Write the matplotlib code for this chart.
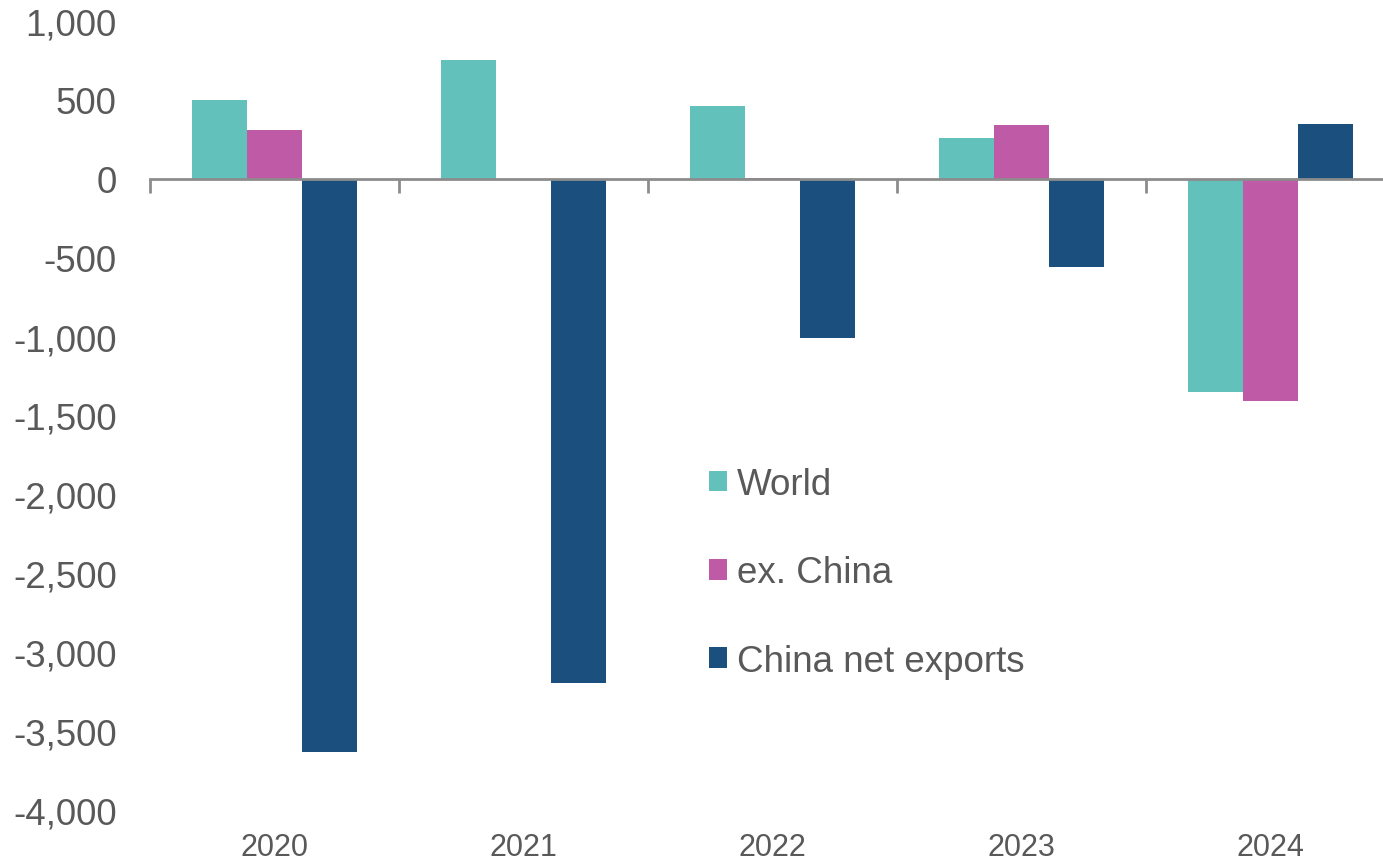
import numpy as np
import matplotlib
matplotlib.use("Agg")
import matplotlib.pyplot as plt
from matplotlib.ticker import FuncFormatter

years = ["2020", "2021", "2022", "2023", "2024"]
world = [500, 755, 462, 260, -1350]
ex_china = [310, -10, 5, 342, -1408]
china_net_exports = [-3632, -3195, -1008, -558, 349]

series = [("World", world, "#62c1bb"),
          ("ex. China", ex_china, "#bf5aa6"),
          ("China net exports", china_net_exports, "#1b507e")]

plt.rcParams["font.family"] = ["Liberation Sans", "DejaVu Sans"]
text_col = "#595959"
axis_col = "#8c8c8c"

fig = plt.figure(figsize=(13.83, 8.62), dpi=100)
ax = fig.add_axes([150 / 1383, 51 / 862, 1245 / 1383, 789 / 862])

x = np.arange(len(years))
w = 0.221
for i, (name, vals, col) in enumerate(series):
    ax.bar(x + (i - 1) * w, vals, w, color=col, label=name, zorder=2)

ax.set_xlim(-0.5, len(years) - 0.5)
ax.set_ylim(-4000, 1000)
ax.set_yticks(np.arange(-4000, 1001, 500))
ax.yaxis.set_major_formatter(FuncFormatter(lambda v, p: f"{int(v):,}"))
ax.tick_params(axis="y", length=0, pad=24, labelsize=26.5, labelcolor=text_col)

for s in ["top", "right", "left"]:
    ax.spines[s].set_visible(False)
ax.spines["bottom"].set_position(("data", 0))
ax.spines["bottom"].set_color(axis_col)
ax.spines["bottom"].set_linewidth(2)
ax.spines["bottom"].set_zorder(3)
ax.set_xticks(np.arange(-0.5, len(years), 1.0))
ax.tick_params(axis="x", direction="out", length=10, width=2, color=axis_col,
               labelbottom=False)

# year labels along the bottom edge
sec = ax.secondary_xaxis("bottom")
sec.set_xticks(x)
sec.set_xticklabels(years)
sec.spines["bottom"].set_visible(False)
sec.tick_params(length=0, pad=16, labelsize=22, labelcolor=text_col)

leg = fig.legend(loc="upper left", bbox_to_anchor=(709 / 1383, 1 - 468 / 862),
                 frameon=False, fontsize=26.5, handlelength=0.49, handleheight=0.49,
                 handletextpad=0.27, labelspacing=1.45, borderpad=0, borderaxespad=0)
for t in leg.get_texts():
    t.set_color(text_col)

fig.savefig("out.png", dpi=100)
